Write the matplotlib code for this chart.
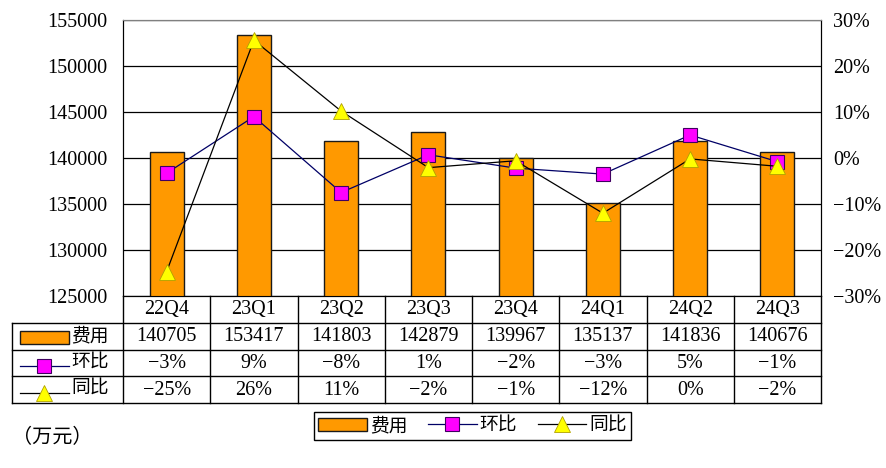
import numpy as np
import matplotlib.pyplot as plt
from matplotlib.patches import Rectangle, Patch
from matplotlib.lines import Line2D

plt.rcParams['font.family'] = ['Liberation Serif', 'Noto Sans CJK SC']
plt.rcParams['axes.unicode_minus'] = True

quarters = ['22Q4', '23Q1', '23Q2', '23Q3', '23Q4', '24Q1', '24Q2', '24Q3']
cost = [140705, 153417, 141803, 142879, 139967, 135137, 141836, 140676]
qoq = [-3.3, 9.0, -7.5, 0.7, -2.2, -3.5, 5.0, -0.8]
yoy = [-24.7, 25.6, 10.2, -2.1, -0.6, -12.0, -0.2, -1.8]
qoq_labels = ['−3%', '9%', '−8%', '1%', '−2%', '−3%', '5%', '−1%']
yoy_labels = ['−25%', '26%', '11%', '−2%', '−1%', '−12%', '0%', '−2%']
series_names = ['费用', '环比', '同比']

ORANGE = '#FF9900'
MAGENTA = '#FF00FF'
YELLOW = '#FFFF00'
NAVY = '#000066'

W, H = 886, 468


def fx(px):
    return px / W


def fy(py):
    return 1 - py / H


fig = plt.figure(figsize=(W / 100, H / 100), dpi=100)

# main chart
ax = fig.add_axes([fx(123), fy(296), fx(821) - fx(123), fy(20) - fy(296)])
x = np.arange(len(quarters))
ax.bar(x, cost, width=0.39, color=ORANGE, edgecolor='#1a1a1a', lw=1.0, zorder=3)
ax.set_xlim(-0.5, len(quarters) - 0.5)
ax.set_ylim(125000, 155000)
ax.set_yticks(np.arange(125000, 155001, 5000))
ax.yaxis.grid(True, color='black', lw=0.9)
ax.set_axisbelow(True)
ax.set_xticks([])
ax.tick_params(axis='y', length=0, pad=11, labelsize=14.5)
ax.spines['top'].set_color('#808080')

ax2 = ax.twinx()
ax2.set_ylim(-30, 30)
ax2.set_yticks(np.arange(-30, 31, 10))
ax2.set_yticklabels([f'{v}%'.replace('-', '−') for v in range(-30, 31, 10)])
ax2.tick_params(axis='y', length=0, pad=9, labelsize=14.5)
ax2.plot(x, qoq, color=NAVY, lw=0.9, marker='s', ms=10.5,
         mfc=MAGENTA, mec='#400060', mew=0.8, zorder=4)
ax2.plot(x, yoy, color='black', lw=0.9, marker='^', ms=11,
         mfc=YELLOW, mec='#B0A000', mew=0.6, zorder=5)
ax2.spines['top'].set_color('#808080')


# data table under the chart
tab = fig.add_axes([fx(123), fy(403), fx(821) - fx(123), fy(296) - fy(403)])
tab.set_xlim(-0.5, len(quarters) - 0.5)
tab.set_ylim(4, 0)
tab.axis('off')


def d(px):
    return (px - 123) / 87.25 - 0.5


left = d(12)
right = len(quarters) - 0.5
for r in [1, 2, 3, 4]:
    tab.plot([left, right], [r, r], color='black', lw=1.0, clip_on=False)
tab.plot([left, left], [1, 4], color='black', lw=1.0, clip_on=False)
for k in range(len(quarters) + 1):
    tab.plot([k - 0.5, k - 0.5], [0, 4], color='black', lw=1.0, clip_on=False)

rows = [[str(v) for v in cost], qoq_labels, yoy_labels]
for i, q in enumerate(quarters):
    tab.text(i, 0.5, q, ha='center', va='center', fontsize=14.5)
    for r, vals in enumerate(rows):
        tab.text(i, r + 1.52, vals[i], ha='center', va='center', fontsize=14.5)

# row keys
tab.add_patch(Rectangle((d(20), 1.3), d(69) - d(20), 0.48, facecolor=ORANGE,
                        edgecolor='#1a1a1a', lw=1.0, clip_on=False))
tab.plot([d(20), d(69)], [2.62, 2.62], color=NAVY, lw=0.9, clip_on=False)
tab.plot([(d(20) + d(69)) / 2], [2.62], marker='s', ms=10.5, mfc=MAGENTA,
         mec='#400060', mew=0.8, clip_on=False)
tab.plot([d(20), d(69)], [3.62, 3.62], color='black', lw=0.9, clip_on=False)
tab.plot([(d(20) + d(69)) / 2], [3.62], marker='^', ms=11, mfc=YELLOW,
         mec='#B0A000', mew=0.6, clip_on=False)
for r, name in enumerate(series_names):
    tab.text(d(71), r + 1.5, name, ha='left', va='center', fontsize=13.5)

# legend
handles = [
    Patch(facecolor=ORANGE, edgecolor='#1a1a1a', lw=1.0),
    Line2D([], [], color=NAVY, lw=0.9, marker='s', ms=10.5, mfc=MAGENTA,
           mec='#400060', mew=0.8),
    Line2D([], [], color='black', lw=0.9, marker='^', ms=11, mfc=YELLOW,
           mec='#B0A000', mew=0.6),
]
leg = fig.legend(handles, series_names, loc='center', ncol=3,
                 bbox_to_anchor=(fx(472.5), fy(426)), fontsize=13.5,
                 handlelength=2.6, handleheight=0.7, handletextpad=0.15,
                 columnspacing=1.1, borderpad=0.25, borderaxespad=0,
                 fancybox=False, framealpha=1, edgecolor='black')
leg.get_frame().set_linewidth(1.0)

fig.text(fx(12), fy(438), '（万元）', ha='left', va='center', fontsize=14.5)

fig.savefig('out.png', dpi=100)
